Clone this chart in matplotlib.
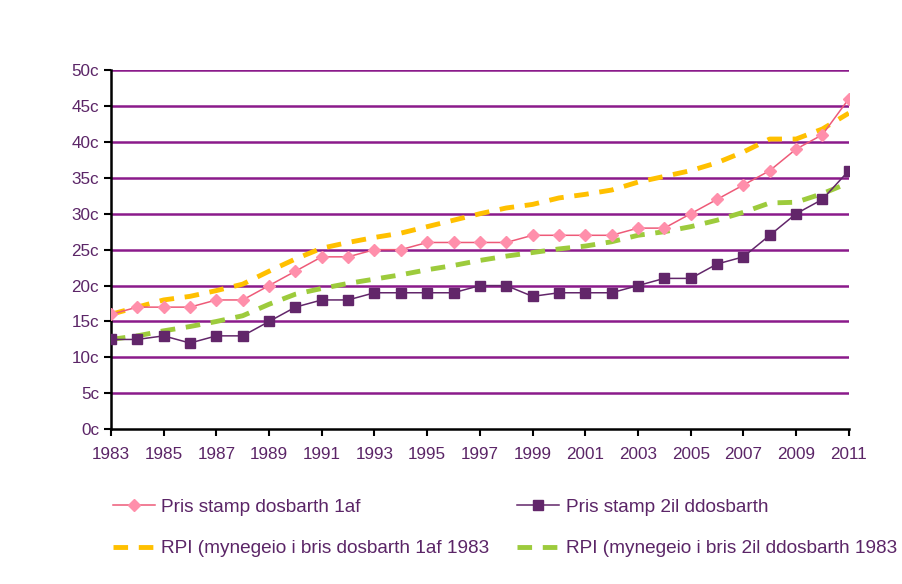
import matplotlib.pyplot as plt

years = list(range(1983, 2012))

first_class = [16, 17, 17, 17, 18, 18, 20, 22, 24, 24, 25, 25, 26, 26, 26, 26,
               27, 27, 27, 27, 28, 28, 30, 32, 34, 36, 39, 41, 46]
second_class = [12.5, 12.5, 13, 12, 13, 13, 15, 17, 18, 18, 19, 19, 19, 19, 20, 20,
                18.5, 19, 19, 19, 20, 21, 21, 23, 24, 27, 30, 32, 36]
rpi_first = [16, 17.0, 18.0, 18.5, 19.3, 20.2, 22.0, 23.7, 25.2, 26.0, 26.7, 27.3,
             28.2, 29.1, 30.0, 30.8, 31.3, 32.2, 32.7, 33.3, 34.4, 35.2, 36.0, 37.1,
             38.6, 40.4, 40.4, 41.8, 44.0]
rpi_second = [12.5, 13.0, 13.7, 14.3, 15.0, 15.8, 17.4, 18.8, 19.6, 20.3, 20.9, 21.5,
              22.2, 22.8, 23.5, 24.1, 24.6, 25.1, 25.5, 26.1, 27.0, 27.5, 28.2, 29.1,
              30.2, 31.5, 31.6, 32.8, 34.3]

labels = ['Pris stamp dosbarth 1af', 'Pris stamp 2il ddosbarth',
          'RPI (mynegeio i bris dosbarth 1af 1983',
          'RPI (mynegeio i bris 2il ddosbarth 1983']

text_col = '#5B2567'
plt.rcParams['font.family'] = ['Liberation Sans', 'DejaVu Sans']

fig = plt.figure(figsize=(9.02, 5.84), dpi=100)
ax = fig.add_axes([0.123, 0.265, 0.818, 0.615])

# purple horizontal grid
for v in range(5, 51, 5):
    ax.axhline(v, color='#8B1A8B', lw=1.8, zorder=1)

l_or, = ax.plot(years, rpi_first, color='#FFC000', lw=3.5, ls=(0, (3, 2.2)), zorder=2)
l_gr, = ax.plot(years, rpi_second, color='#9DCB3C', lw=3.5, ls=(0, (3, 2.2)), zorder=2)
l_pk, = ax.plot(years, first_class, color='#EE5A78', lw=1.1, marker='D',
                ms=6, mfc='#FF8FAB', mec='#FF8FAB', zorder=3)
l_pu, = ax.plot(years, second_class, color='#62266A', lw=1.1, marker='s',
                ms=7, mfc='#62266A', mec='#62266A', zorder=3)

ax.set_xlim(1983, 2011)
ax.set_ylim(0, 50)
ax.set_xticks(range(1983, 2012, 2))
ax.set_yticks(range(0, 51, 5))
ax.set_yticklabels([f'{v}c' for v in range(0, 51, 5)])
ax.tick_params(colors='black', labelcolor=text_col, labelsize=12.3,
               direction='out', length=5, width=1.5)
ax.tick_params(axis='x', pad=8)
ax.spines['top'].set_visible(False)
ax.spines['right'].set_visible(False)
for s in ['left', 'bottom']:
    ax.spines[s].set_linewidth(1.8)

fig.legend([l_pk, l_or, l_pu, l_gr], [labels[0], labels[2], labels[1], labels[3]],
           ncol=2, loc='upper left', bbox_to_anchor=(0.125, 0.146),
           frameon=False, fontsize=13.7, labelcolor=text_col, borderpad=0,
           handlelength=2.2, handletextpad=0.35, columnspacing=1.45,
           labelspacing=1.26, borderaxespad=0)

fig.savefig('out.png', dpi=100)
